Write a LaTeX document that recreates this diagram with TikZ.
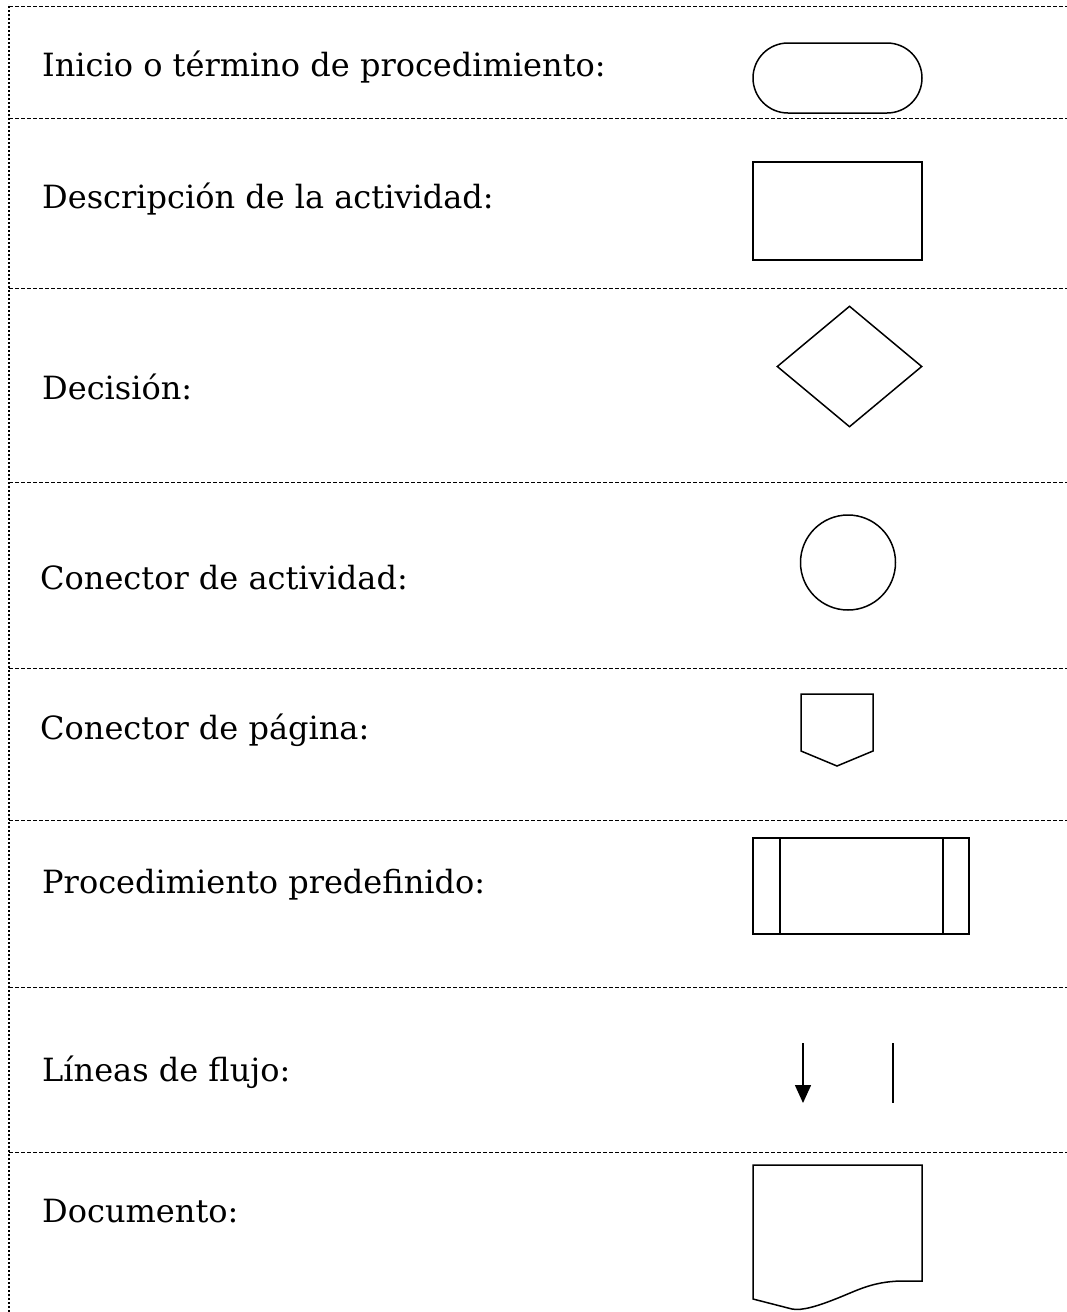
\documentclass[tikz,border=0pt]{standalone}
\usepackage{fontspec}
\setmainfont{DejaVu Serif}
\usetikzlibrary{shapes.geometric,shapes.misc,arrows.meta}
\begin{document}
\begin{tikzpicture}[x=1pt,y=-1pt,
  lbl/.style={anchor=base west,inner sep=0pt,font=\fontsize{32}{38}\selectfont},
  sep/.style={draw=black,line width=1pt,dash pattern=on 4pt off 2pt},
  shp/.style={draw=black,line width=1.5pt,inner sep=0pt}]
\useasboundingbox (0,0) rectangle (1067,1312);
% frame
\draw[line width=1.4pt,dash pattern=on 1.5pt off 2.5pt] (9,6) -- (9,1312);
\foreach \yy in {6,118,288,482,668,820,987,1152}
  \draw[sep] (9,\yy) -- (1067,\yy);
% labels
\node[lbl] (t1) at (42,76) {Inicio o término de procedimiento:};
\node[lbl] (t2) at (42,208) {Descripción de la actividad:};
\node[lbl] (t3) at (42,399) {Decisión:};
\node[lbl] (t4) at (40,589) {Conector de actividad:};
\node[lbl] (t5) at (40,739) {Conector de página:};
\node[lbl] (t6) at (42,893) {Procedimiento predefinido:};
\node[lbl] (t7) at (42,1081) {Líneas de flujo:};
\node[lbl] (t8) at (42,1222) {Documento:};
% shapes
\node[shp,rounded rectangle,minimum width=169pt,minimum height=70pt] (s1) at (837.5,78) {};
\node[shp,rectangle,minimum width=169pt,minimum height=98pt] (s2) at (837.5,211) {};
\node[shp,diamond,minimum width=145pt,minimum height=121pt] (s3) at (849.5,366.5) {};
\node[shp,circle,minimum size=95pt] (s4) at (848,562.5) {};
\draw[shp,line join=miter] (801,694) -- (873,694) -- (873,751) -- (837,766) -- (801,751) -- cycle;
\node[shp,rectangle,minimum width=216pt,minimum height=96pt] (s6) at (861,886) {};
\draw[shp] (780,838) -- (780,934);
\draw[shp] (943,838) -- (943,934);
\coordinate (a1) at (803,1043);
\coordinate (a2) at (803,1103);
\draw[shp,-{Triangle[width=16pt,length=18pt]}] (a1) -- (a2);
\coordinate (b1) at (893,1043);
\coordinate (b2) at (893,1103);
\draw[shp] (b1) -- (b2);
\draw[shp,line join=miter] (753,1299) -- (753,1165) -- (922,1165) -- (922,1281) -- (900,1281)
  .. controls (872,1282) and (858,1290) .. (838,1298)
  .. controls (818,1306) and (802,1311) .. (792,1309)
  -- cycle;
\end{tikzpicture}
\end{document}
